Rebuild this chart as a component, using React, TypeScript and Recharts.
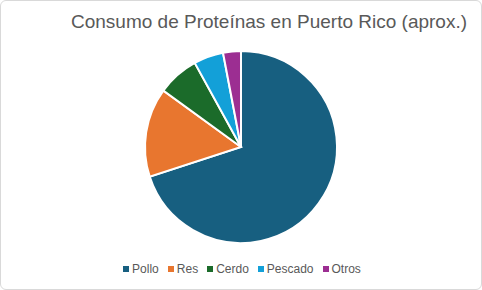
import React from "react";
import { PieChart, Pie, Cell } from "recharts";

const categories = ["Pollo", "Res", "Cerdo", "Pescado", "Otros"];
const shares = [70, 15, 7, 5, 3];
const colors = ["#175f80", "#e8762f", "#1b6b2a", "#13a0d8", "#9c2e92"];

const pieData = categories.map((name, i) => ({ name, value: shares[i] }));

export default function App() {
  return (
    <div
      style={{
        position: "absolute",
        left: 0,
        top: 0,
        width: 482,
        height: 290,
        boxSizing: "border-box",
        border: "1px solid #d9d9d9",
        borderRadius: 6,
        background: "#fff",
        fontFamily: "'Liberation Sans', Arial, sans-serif",
      }}
    >
      <div
        style={{
          position: "absolute",
          left: 70,
          top: 10,
          fontSize: 19,
          color: "#595959",
          whiteSpace: "nowrap",
        }}
      >
        Consumo de Proteínas en Puerto Rico (aprox.)
      </div>
      <PieChart
        width={480}
        height={288}
        margin={{ top: 0, right: 0, bottom: 0, left: 0 }}
        style={{ position: "absolute", left: 0, top: 0 }}
      >
        <Pie
          data={pieData}
          dataKey="value"
          nameKey="name"
          cx={240}
          cy={146}
          outerRadius={96}
          startAngle={90}
          endAngle={-270}
          stroke="#ffffff"
          strokeWidth={2}
          isAnimationActive={false}
        >
          {pieData.map((entry, index) => (
            <Cell key={`cell-${index}`} fill={colors[index]} />
          ))}
        </Pie>
      </PieChart>
      {/* legend */}
      <div
        style={{
          position: "absolute",
          left: 0,
          top: 259,
          width: 482,
          display: "flex",
          justifyContent: "center",
          fontSize: 12,
          color: "#595959",
          lineHeight: "18px",
        }}
      >
        {categories.map((c, i) => (
          <span key={c} style={{ display: "flex", alignItems: "center", marginRight: i < categories.length - 1 ? 9 : 0 }}>
            <span style={{ display: "inline-block", width: 6, height: 6, background: colors[i], marginRight: 3 }} />
            {c}
          </span>
        ))}
      </div>
    </div>
  );
}
